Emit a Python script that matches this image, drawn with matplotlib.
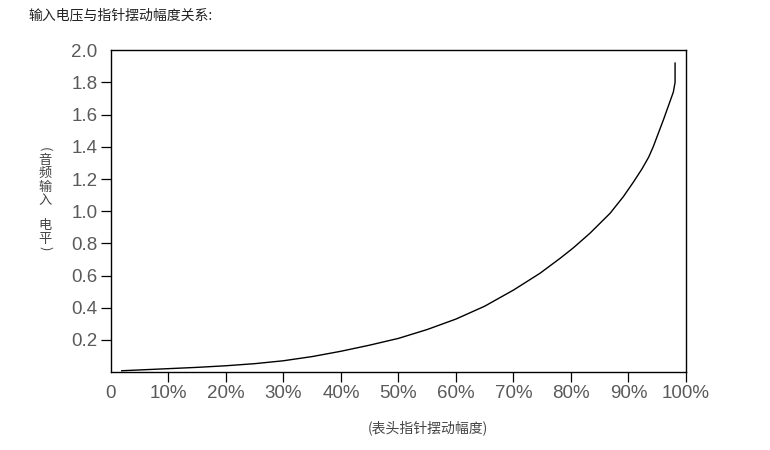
import matplotlib
matplotlib.use('Agg')
import matplotlib.pyplot as plt

# 表头指针摆动幅度 (%) と 音频输入电平
swing_pct = [1.9, 5, 10, 15, 20, 25, 30, 35, 40, 45, 50, 55, 60, 65, 70, 74.6,
             78.1, 80.4, 83.3, 86.8, 89.1, 90.9, 92.3, 93.5, 94.3, 96.1, 97.3,
             97.8, 98.1, 98.1]
level = [0.009, 0.014, 0.022, 0.03, 0.04, 0.053, 0.071, 0.097, 0.13, 0.168,
         0.21, 0.265, 0.33, 0.41, 0.51, 0.614, 0.707, 0.772, 0.863, 0.987,
         1.09, 1.183, 1.26, 1.335, 1.40, 1.57, 1.69, 1.74, 1.80, 1.92]

x_ticks = [0, 10, 20, 30, 40, 50, 60, 70, 80, 90, 100]
x_labels = ['0', '10%', '20%', '30%', '40%', '50%', '60%', '70%', '80%', '90%', '100%']
y_ticks = [0.2, 0.4, 0.6, 0.8, 1.0, 1.2, 1.4, 1.6, 1.8, 2.0]
y_labels = ['0.2', '0.4', '0.6', '0.8', '1.0', '1.2', '1.4', '1.6', '1.8', '2.0']

title = '输入电压与指针摆动幅度关系:'
x_title = '(表头指针摆动幅度)'
y_title = ['(', '音', '频', '输', '入', '电', '平', ')']

W, H = 770, 450
cjk = ['Noto Sans CJK SC', 'DejaVu Sans']
num_font = 'Liberation Sans'

fig = plt.figure(figsize=(W / 100, H / 100), dpi=100)
ax = fig.add_axes([110.8 / W, 1 - 372.2 / H, (686 - 110.8) / W, (372.2 - 50.2) / H])

ax.plot(swing_pct, level, color='black', lw=1.0)

ax.set_xlim(0, 100)
ax.set_ylim(0, 2.0)
ax.set_xticks(x_ticks)
ax.set_xticklabels(x_labels, fontfamily=num_font, fontsize=13.5, color='#5a5a5a')
ax.set_yticks(y_ticks)
ax.set_yticklabels(y_labels, fontfamily=num_font, fontsize=13.5, color='#5a5a5a')
ax.tick_params(axis='both', direction='out', length=7.5, width=0.9, color='black')
ax.tick_params(axis='x', pad=2)
ax.tick_params(axis='y', pad=2)
# 0 と 2.0 は目盛り線なし
ax.xaxis.get_major_ticks()[0].tick1line.set_visible(False)
ax.yaxis.get_major_ticks()[-1].tick1line.set_visible(False)

for s in ax.spines.values():
    s.set_linewidth(1.0)
    s.set_color('black')

fig.text(28 / W, 1 - 15 / H, title, fontfamily=cjk, fontsize=10,
         color='#222222', ha='left', va='center')
fig.text(427.5 / W, 1 - 427.5 / H, x_title, fontfamily=cjk, fontsize=10,
         color='#444444', ha='center', va='center')

# 縦書きラベル
y_pos = [149, 160, 173, 187, 201, 226, 239, 248]
for ch, yp in zip(y_title, y_pos):
    rot = -90 if ch in '()' else 0
    fig.text(45 / W, 1 - yp / H, ch, fontfamily=cjk, fontsize=9.5,
             color='#444444', ha='center', va='center', rotation=rot)

fig.savefig('out.png', dpi=100)
